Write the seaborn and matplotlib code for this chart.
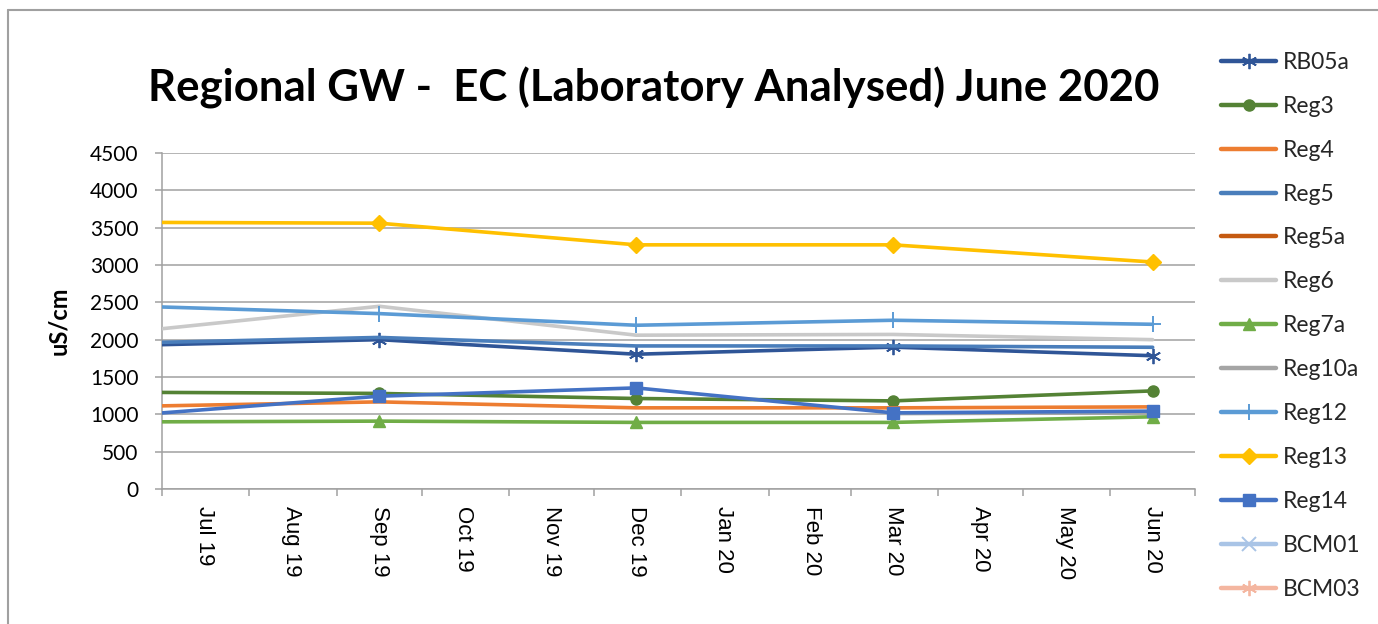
import numpy as np
import pandas as pd
import seaborn as sns
from matplotlib import pyplot as plt
from matplotlib import dates as mdates
from matplotlib.lines import Line2D

nan = np.nan

# sampling dates (quarterly); first one sits left of the axis and is clipped
sample_dates = ["2019-06-16", "2019-09-16", "2019-12-16", "2020-03-16", "2020-06-16"]

series_names = ["RB05a", "Reg3", "Reg4", "Reg5", "Reg5a", "Reg6", "Reg7a",
                "Reg10a", "Reg12", "Reg13", "Reg14", "BCM01", "BCM03"]

rb05a = [1920, 2000, 1805, 1900, 1785]
reg3 = [1296, 1280, 1212, 1180, 1314]
reg4 = [1103, 1167, 1087, 1087, 1100]
reg5 = [1952, 2030, 1916, 1916, 1898]
reg5a = [nan, nan, nan, nan, nan]
reg6 = [2088, 2447, 2060, 2070, 2000]
reg7a = [898, 909, 892, 892, 967]
reg10a = [nan, nan, nan, 1010, 1020]
reg12 = [2455, 2349, 2193, 2260, 2206]
reg13 = [3572, 3560, 3270, 3270, 3040]
reg14 = [975, 1243, 1354, 1020, 1043]
bcm01 = [nan, nan, nan, nan, nan]
bcm03 = [nan, nan, nan, nan, nan]

values = [rb05a, reg3, reg4, reg5, reg5a, reg6, reg7a,
          reg10a, reg12, reg13, reg14, bcm01, bcm03]

# color, marker, markersize, marker edge width
styles = {
    "RB05a": ("#2f5597", (6, 2, 0), 11, 1.3),
    "Reg3": ("#548235", "o", 8, 1.0),
    "Reg4": ("#ed7d31", None, 0, 0),
    "Reg5": ("#4a7ebb", None, 0, 0),
    "Reg5a": ("#c55a11", None, 0, 0),
    "Reg6": ("#c9c9c9", None, 0, 0),
    "Reg7a": ("#70ad47", "^", 9, 1.0),
    "Reg10a": ("#a5a5a5", None, 0, 0),
    "Reg12": ("#5b9bd5", "+", 12, 1.4),
    "Reg13": ("#ffc000", "D", 8, 1.0),
    "Reg14": ("#4472c4", "s", 8.5, 1.0),
    "BCM01": ("#a9c4e6", "x", 10, 1.4),
    "BCM03": ("#f4b6a0", (6, 2, 0), 11, 1.3),
}

df = pd.DataFrame({"date": pd.to_datetime(sample_dates)})
for name, vals in zip(series_names, values):
    df[name] = vals

sns.set_theme(style="white")
plt.rcParams["font.family"] = ["Lato", "DejaVu Sans"]

fig = plt.figure(figsize=(13.78, 6.24), dpi=100)
ax = fig.add_axes([162 / 1378, 1 - 489 / 624, (1195 - 162) / 1378, (489 - 153) / 624])

lw = 2.6
handles = []
for i, name in enumerate(series_names):
    color, marker, ms, mew = styles[name]
    sub = df[["date", name]].dropna()
    if len(sub):
        sns.lineplot(data=sub, x="date", y=name, ax=ax, color=color, linewidth=lw,
                     marker=marker, markersize=ms, markeredgecolor=color,
                     markeredgewidth=mew, markerfacecolor=color, zorder=3 + i,
                     estimator=None, legend=False)
    handles.append(Line2D([], [], color=color, linewidth=lw + 0.6, marker=marker,
                          markersize=ms, markeredgecolor=color, markeredgewidth=mew,
                          markerfacecolor=color))

ax.set_xlim(pd.Timestamp("2019-07-01"), pd.Timestamp("2020-07-01"))
ax.set_ylim(0, 4500)
ax.set_yticks(np.arange(0, 4501, 500))

ax.xaxis.set_major_locator(mdates.MonthLocator(bymonthday=1))
ax.xaxis.set_major_formatter(plt.NullFormatter())
ax.xaxis.set_minor_locator(mdates.MonthLocator(bymonthday=16))
ax.xaxis.set_minor_formatter(mdates.DateFormatter("%b %y"))

ax.grid(axis="y", color="#a0a0a0", linewidth=1.1)
ax.grid(axis="x", visible=False)
for side in ["top", "right"]:
    ax.spines[side].set_visible(False)
for side in ["left", "bottom"]:
    ax.spines[side].set_color("#a0a0a0")
    ax.spines[side].set_linewidth(1.1)

ax.tick_params(axis="y", which="major", left=True, length=5, width=1.1, color="#a0a0a0",
               pad=12, labelsize=15, labelcolor="black")
ax.tick_params(axis="x", which="major", bottom=True, length=5, width=1.1, color="#a0a0a0")
ax.tick_params(axis="x", which="minor", bottom=True, length=0, pad=12)
for lab in ax.xaxis.get_minorticklabels():
    lab.set_rotation(270)
    lab.set_fontfamily("Liberation Sans")
    lab.set_fontsize(16)
    lab.set_color("black")

ax.set_xlabel("")
ax.set_ylabel("uS/cm", fontsize=17, fontweight="bold", color="black", labelpad=14)

fig.text(654 / 1378, 1 - 88 / 624, "Regional GW -  EC (Laboratory Analysed) June 2020",
         ha="center", va="center", fontsize=31.5, fontweight="bold", color="black")

fig.legend(handles, series_names, loc="upper left", bbox_to_anchor=(1221 / 1378, 0.917),
           frameon=False, fontsize=16.5, handlelength=2.4, handletextpad=0.3,
           labelspacing=1.0, borderpad=0, borderaxespad=0)

# chart outer border
fig.add_artist(Line2D([8 / 1378, 8 / 1378], [0, 1 - 10 / 624], color="#a0a0a0", linewidth=1.5))
fig.add_artist(Line2D([8 / 1378, 1], [1 - 10 / 624, 1 - 10 / 624], color="#a0a0a0", linewidth=1.5))

fig.savefig("out.png", dpi=100)
